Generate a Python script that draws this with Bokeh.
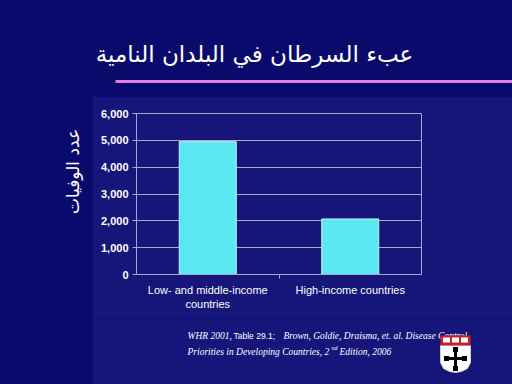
import math
from bokeh.plotting import figure
from bokeh.layouts import row, column
from bokeh.models import Range1d, FixedTicker, NumeralTickFormatter
from bokeh.core.properties import value
from bokeh.embed import file_html
from bokeh.resources import INLINE

# ---- data ----
title_text = "عبء السرطان في البلدان النامية"
y_label = "عدد الوفيات"
categories = ["Low- and middle-income\ncountries", "High-income countries"]
deaths = [4950, 2070]
y_ticks = [0, 1000, 2000, 3000, 4000, 5000, 6000]
source_line1 = ["WHR 2001,", "Table 29.1;", "Brown, Goldie, Draisma, et. al.  Disease Control"]
source_line2 = ["Priorities in Developing Countries, 2", "nd", "Edition, 2006"]

# ---- style ----
BG = "#0a0a6c"
PANEL = "#15157a"
GRID = "#a8a8d8"
BAR = "#5ae8f0"
BAR_EDGE = "#c8f6fa"
PINK = "#e07ee6"
WHITE = "#ffffff"

PX, PY = 92, 96          # panel top-left on the slide
SW, SH = 512, 384        # slide size
FL, FT, FR, FB = 136, 113, 421, 274   # chart frame edges on the slide
CH_BOTTOM = 318          # bottom of chart canvas on the slide


def deco(w, h, fill):
    f = figure(width=w, height=h, output_backend="svg", toolbar_location=None,
               x_range=Range1d(0, w), y_range=Range1d(h, 0),
               x_axis_location=None, y_axis_location=None, min_border=0)
    f.min_border_left = f.min_border_right = f.min_border_top = f.min_border_bottom = 0
    f.frame_align = False
    f.grid.visible = False
    f.outline_line_color = None
    f.border_fill_color = fill
    f.background_fill_color = fill
    return f


# ---- top strip: title + rule ----
top = deco(SW, PY, BG)
top.text(x=[254], y=[53], text=[title_text], text_align="center",
         text_baseline="alphabetic", text_font=value("DejaVu Sans"),
         text_font_size=value("23px"), text_color=WHITE)
top.segment(x0=[115], y0=[81], x1=[SW], y1=[81], line_color=PINK,
            line_width=3, line_cap="butt")

# ---- left strip: y label ----
left = deco(PX, SH - PY, BG)
left.text(x=[72], y=[171 - PY], text=[y_label], angle=math.pi / 2,
          text_align="center", text_baseline="middle",
          text_font=value("DejaVu Sans"), text_font_size=value("17px"),
          text_color=WHITE)

# ---- chart ----
xs = list(range(len(categories)))
cw, chh = SW - PX, CH_BOTTOM - PY
p = figure(width=cw, height=chh, output_backend="svg", toolbar_location=None,
           x_range=Range1d(-0.5, len(categories) - 0.5), y_range=Range1d(0, 6000),
           min_border_left=FL - PX, min_border_top=FT - PY,
           min_border_right=SW - FR, min_border_bottom=CH_BOTTOM - FB)
p.frame_align = False
p.border_fill_color = PANEL
p.background_fill_color = PANEL
p.outline_line_color = GRID
p.outline_line_width = 1

p.vbar(x=xs, top=deaths, bottom=0, width=0.4, fill_color=BAR,
       line_color=BAR_EDGE, line_width=1)

p.xaxis.ticker = FixedTicker(ticks=xs, minor_ticks=[0.5])
p.xaxis.major_label_overrides = {i: c for i, c in zip(xs, categories)}
p.xaxis.major_tick_line_color = None
p.xaxis.minor_tick_line_color = GRID
p.xaxis.minor_tick_in = 0
p.xaxis.minor_tick_out = 4
p.xaxis.axis_line_color = GRID
p.xaxis.major_label_text_color = WHITE
p.xaxis.major_label_text_font = "Liberation Sans"
p.xaxis.major_label_text_font_size = "11px"
p.xaxis.major_label_standoff = 3

p.yaxis.ticker = FixedTicker(ticks=y_ticks)
p.yaxis.formatter = NumeralTickFormatter(format="0,0")
p.yaxis.major_tick_line_color = GRID
p.yaxis.major_tick_in = 0
p.yaxis.major_tick_out = 4
p.yaxis.minor_tick_line_color = None
p.yaxis.axis_line_color = GRID
p.yaxis.major_label_text_color = WHITE
p.yaxis.major_label_text_font = "Liberation Sans"
p.yaxis.major_label_text_font_style = "bold"
p.yaxis.major_label_text_font_size = "11px"
p.yaxis.major_label_standoff = 4

p.xgrid.grid_line_color = None
p.ygrid.grid_line_color = GRID
p.ygrid.grid_line_width = 1

# ---- bottom strip: source + logo ----
bot = deco(SW - PX, SH - CH_BOTTOM, PANEL)
serif = value("Liberation Serif")
ox, oy = PX, CH_BOTTOM
bot.text(x=[187 - ox, 283 - ox], y=[335 - oy, 335 - oy],
         text=[source_line1[0], source_line1[2]], text_font=serif,
         text_font_style=value("italic"), text_font_size=value("9.5px"),
         text_color=WHITE, text_baseline="alphabetic")
bot.text(x=[233 - ox], y=[335 - oy], text=[source_line1[1]],
         text_font=value("Liberation Sans"), text_font_size=value("8.5px"),
         text_color=WHITE, text_baseline="alphabetic")
bot.text(x=[187 - ox, 339 - ox], y=[351 - oy, 351 - oy],
         text=[source_line2[0], source_line2[2]], text_font=serif,
         text_font_style=value("italic"), text_font_size=value("9.5px"),
         text_color=WHITE, text_baseline="alphabetic")
bot.text(x=[331 - ox], y=[347 - oy], text=[source_line2[1]], text_font=serif,
         text_font_style=value("italic"), text_font_size=value("6px"),
         text_color=WHITE, text_baseline="alphabetic")

# shield logo (slide coordinates shifted into the strip)
shield_x = [440, 470, 470, 467, 461, 455, 449, 443, 440]
shield_y = [345, 345, 362, 368, 371, 372, 371, 368, 362]
bot.patch([v - ox for v in shield_x], [v - oy for v in shield_y],
          fill_color=WHITE, line_color="#cccccc", line_width=1)
bot.quad(left=[440 - ox], right=[470 - ox], top=[335 - oy], bottom=[345 - oy],
         fill_color="#c8202a", line_color=None)
bot.quad(left=[b - ox for b in (442.5, 451.5, 460.5)],
         right=[b + 7 - ox for b in (442.5, 451.5, 460.5)],
         top=[337 - oy] * 3, bottom=[342 - oy] * 3, fill_color=WHITE, line_color=None)
cl = [453.5, 446, 452.5, 452.5, 443.5, 461.5]
cr = [456.5, 464, 457.5, 457.5, 448.5, 466.5]
ct = [348, 356.5, 346.5, 365.5, 355.5, 355.5]
cb = [368, 359.5, 351.5, 370.5, 360.5, 360.5]
bot.quad(left=[v - ox for v in cl], right=[v - ox for v in cr],
         top=[v - oy for v in ct], bottom=[v - oy for v in cb],
         fill_color="#000000", line_color=None)

layout = column(top, row(left, column(p, bot, spacing=0), spacing=0), spacing=0)

html = file_html(layout, INLINE, title="chart")
html = html.replace("</head>", "<style>html,body{background:%s;margin:0;}</style></head>" % BG, 1)
open("out.html", "w").write(html)
